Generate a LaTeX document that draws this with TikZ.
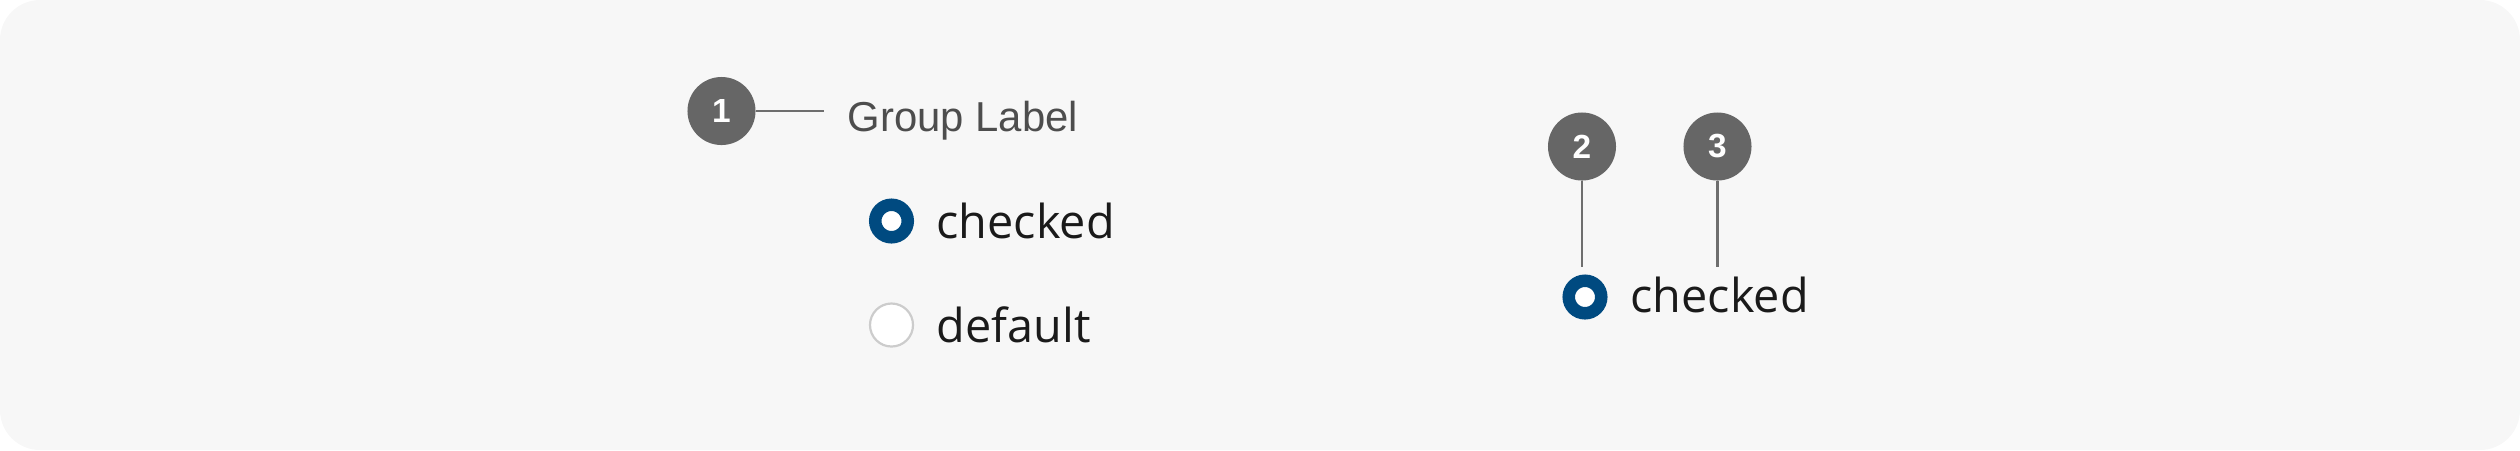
\documentclass[tikz,border=0pt]{standalone}
\usepackage{fontspec}
\setmainfont{Open Sans}
\newfontfamily\grpfont{Liberation Sans}
\definecolor{bggray}{HTML}{F7F7F7}
\definecolor{badgegray}{HTML}{666666}
\definecolor{leadgray}{HTML}{6E6E6E}
\definecolor{radioblue}{HTML}{004A80}
\definecolor{radiogray}{HTML}{CCCCCC}
\definecolor{optblack}{HTML}{1A1A1A}
\definecolor{grptext}{HTML}{4D4D4D}
\begin{document}
\begin{tikzpicture}[x=0.01cm,y=-0.01cm,
    badge/.style={circle,fill=badgegray,minimum size=0.68cm,inner sep=0pt,text=white,
      font=\grpfont\bfseries\fontsize{9.5}{10}\selectfont},
    lead/.style={draw=leadgray,line width=0.025cm},
    radioon/.style={circle,draw=radioblue,line width=0.125cm,fill=white,minimum size=0.325cm,inner sep=0pt},
    radiooff/.style={circle,draw=radiogray,line width=0.022cm,fill=white,minimum size=0.43cm,inner sep=0pt},
    opt/.style={anchor=base west,inner sep=0pt,text=optblack,font=\fontsize{13.3}{16}\selectfont}]
   \useasboundingbox (0,0) rectangle (2520,450);
   \fill[bggray,rounded corners=0.4cm] (0,0) rectangle (2520,450);
   \node[badge] (b1) at (721.5,111) {1};
   \coordinate (g1) at (824,111);
   \node[anchor=base west,inner sep=0pt,text=grptext,font=\grpfont\fontsize{11.9}{14}\selectfont] (glabel) at (847,131) {Group Label};
   \draw[lead] (b1) -- (g1);
   \node[radioon] (r1) at (891.5,221) {};
   \node[opt] (t1) at (936,238) {checked};
   \node[radiooff] (r2) at (891.5,325) {};
   \node[opt] (t2) at (936,342) {default};
   \node[badge] (b2) at (1582,146.5) {2};
   \node[badge] (b3) at (1717.5,146.5) {3};
   \node[radioon] (r3) at (1585,297) {};
   \node[opt] (t3) at (1630,312) {checked};
   \coordinate (p2) at (1582,267);
   \coordinate (p3) at (1717.5,267);
   \draw[lead] (b2) -- (p2);
   \draw[lead] (b3) -- (p3);
\end{tikzpicture}
\end{document}
